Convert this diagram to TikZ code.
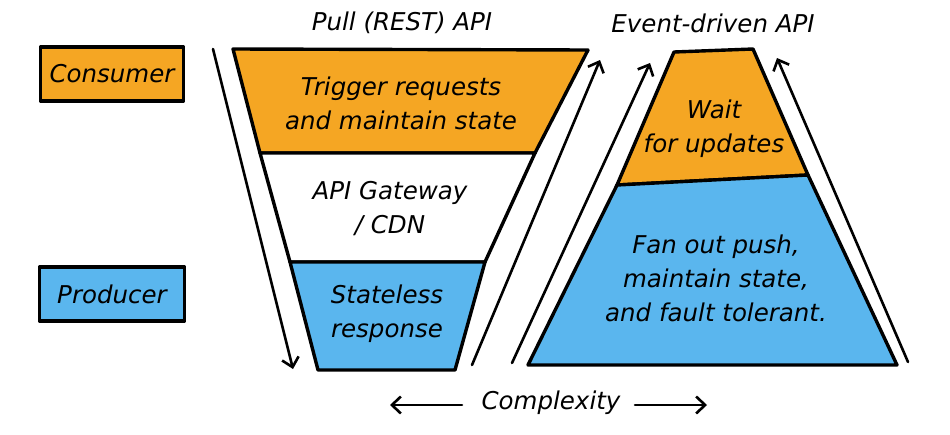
\documentclass[tikz,border=0pt]{standalone}
\usepackage{fontspec}
\setmainfont{DejaVu Sans}
\usetikzlibrary{arrows.meta}
\definecolor{apiorange}{RGB}{245,166,35}
\definecolor{apiblue}{RGB}{90,182,238}
\begin{document}
\begin{tikzpicture}[x=1pt,y=-1pt,line join=round,line cap=round]
\tikzset{
	layer/.style={draw=black,line width=3.4pt},
	label/.style={font=\fontsize{24.5}{34}\selectfont\itshape,align=center,inner sep=0pt},
	flow/.style={line width=2.6pt,-{Straight Barb[length=9pt,width=17pt,line width=2.6pt]}}
}
\useasboundingbox (0,0) rectangle (950,434);
% roles
\node[layer,fill=apiorange,minimum width=143pt,minimum height=54pt,label] (consumer) at (112,74) {Consumer};
\node[layer,fill=apiblue,minimum width=145pt,minimum height=54pt,label] (producer) at (112,294) {Producer};
% pull funnel
\coordinate (pl1) at (233,49);  \coordinate (pr1) at (588,50);
\coordinate (pl2) at (260,153); \coordinate (pr2) at (535,153);
\coordinate (pl3) at (290,262); \coordinate (pr3) at (485,262);
\coordinate (pl4) at (318,370); \coordinate (pr4) at (455,370);
\draw[layer,fill=apiorange] (pl1) -- (pr1) -- (pr2) -- (pl2) -- cycle;
\draw[layer,fill=white] (pl2) -- (pr2) -- (pr3) -- (pl3) -- cycle;
\draw[layer,fill=apiblue] (pl3) -- (pr3) -- (pr4) -- (pl4) -- cycle;
% event funnel
\coordinate (el1) at (674,52);  \coordinate (er1) at (753,49);
\coordinate (el2) at (617,185); \coordinate (er2) at (808,175);
\coordinate (el3) at (528,365); \coordinate (er3) at (897,365);
\draw[layer,fill=apiorange] (el1) -- (er1) -- (er2) -- (el2) -- cycle;
\draw[layer,fill=apiblue] (el2) -- (er2) -- (er3) -- (el3) -- cycle;
% titles
\node[label] (pull) at (402,23) {Pull (REST) API};
\node[label] (event) at (713,23) {Event-driven API};
% texts
\node[label] (trigger) at (401,103) {Trigger requests\\and maintain state};
\node[label] (gateway) at (390,209) {API Gateway\\/ CDN};
\node[label] (stateless) at (387,314) {Stateless\\response};
\node[label] (wait) at (714,129) {Wait\\for updates};
\node[label] (fanout) at (716,278) {Fan out push,\\maintain state,\\and fault tolerant.};
\node[label] (complexity) at (551,403) {Complexity};
% arrows
\coordinate (d1) at (213,49);  \coordinate (d2) at (293,369);
\coordinate (u1) at (472,365); \coordinate (u2) at (600,60);
\coordinate (v1) at (512,363); \coordinate (v2) at (650,63);
\coordinate (w1) at (908,362); \coordinate (w2) at (777,58);
\coordinate (c1) at (462,405); \coordinate (c2) at (390,405);
\coordinate (c3) at (635,405); \coordinate (c4) at (707,405);
\draw[flow] (d1) -- (d2);
\draw[flow] (u1) -- (u2);
\draw[flow] (v1) -- (v2);
\draw[flow] (w1) -- (w2);
\draw[flow] (c1) -- (c2);
\draw[flow] (c3) -- (c4);
\end{tikzpicture}
\end{document}
